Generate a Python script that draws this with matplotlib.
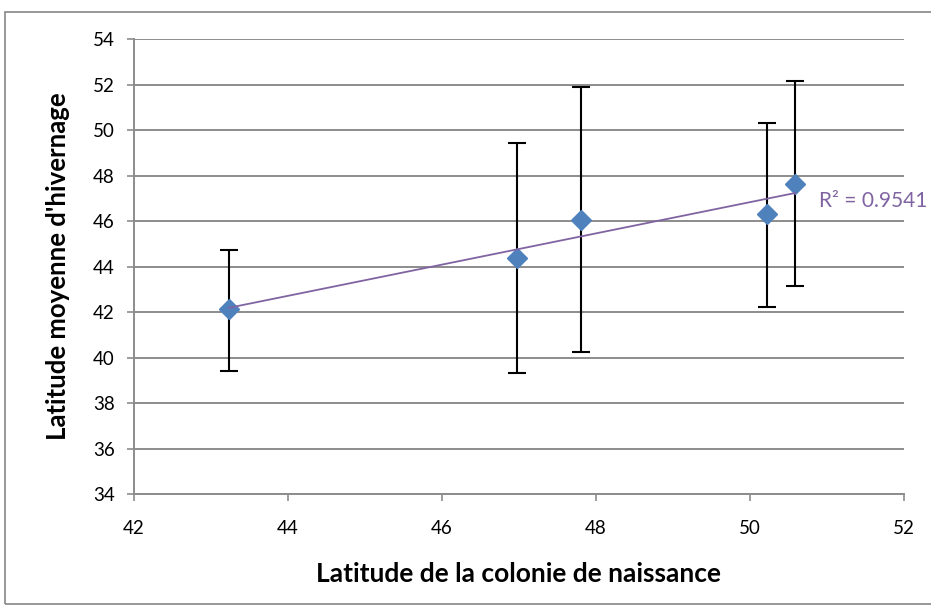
import numpy as np
import matplotlib.pyplot as plt
from matplotlib.patches import Rectangle

# colonie de naissance vs latitude moyenne d'hivernage
lat_colonie = [43.23, 46.97, 47.81, 50.22, 50.59]
lat_hiver = [42.13, 44.37, 46.05, 46.29, 47.63]
err_haut = [44.73, 49.41, 51.90, 50.32, 52.14]
err_bas = [39.41, 39.34, 40.25, 42.23, 43.14]
r2_label = "R² = 0.9541"

x = np.array(lat_colonie)
y = np.array(lat_hiver)
yerr = [y - np.array(err_bas), np.array(err_haut) - y]

plt.rcParams['font.family'] = ['Lato', 'DejaVu Sans']

fig = plt.figure(figsize=(9.31, 6.10), dpi=100)
ax = fig.add_axes([134 / 931, 1 - 494 / 610, (904 - 134) / 931, (494 - 39) / 610])

# cadre du graphique
fig.patches.append(Rectangle((5 / 931, 1 - 604 / 610), 1.0, (604 - 12) / 610,
                             transform=fig.transFigure, fill=False,
                             edgecolor="#868686", linewidth=1.2))

ax.errorbar(x, y, yerr=yerr, fmt="none", ecolor="black", elinewidth=1.5,
            capsize=6.5, capthick=1.5, zorder=3)
ax.plot(x, y, linestyle="none", marker="D", markersize=10,
        color="#4F81BD", markeredgecolor="#4F81BD", zorder=4)

# courbe de tendance linéaire
a, b = np.polyfit(x, y, 1)
xt = np.array([x.min(), x.max()])
ax.plot(xt, a * xt + b, color="#8064A2", linewidth=1.3, zorder=5)
ax.text(50.9, 46.9, r2_label, color="#8064A2", fontsize=15,
        va="center", ha="left", clip_on=False)

ax.set_xlim(42, 52)
ax.set_ylim(34, 54)
ax.set_xticks(np.arange(42, 53, 2))
ax.set_yticks(np.arange(34, 55, 2))
ax.yaxis.grid(True, color="#8c8c8c", linewidth=1.4)
ax.set_axisbelow(True)

for s in ["top", "right"]:
    ax.spines[s].set_visible(False)
for s in ["left", "bottom"]:
    ax.spines[s].set_color("#8c8c8c")
    ax.spines[s].set_linewidth(1.4)
ax.tick_params(axis="both", colors="#8c8c8c", length=5, width=1.2,
               labelcolor="black", labelsize=13.5)
ax.tick_params(axis="x", pad=14)
ax.tick_params(axis="y", pad=9)

ax.set_xlabel("Latitude de la colonie de naissance", fontsize=19,
              fontweight="bold", labelpad=18)
ax.set_ylabel("Latitude moyenne d'hivernage", fontsize=18.5,
              fontweight="bold", labelpad=16)

fig.savefig("out.png", dpi=100)
